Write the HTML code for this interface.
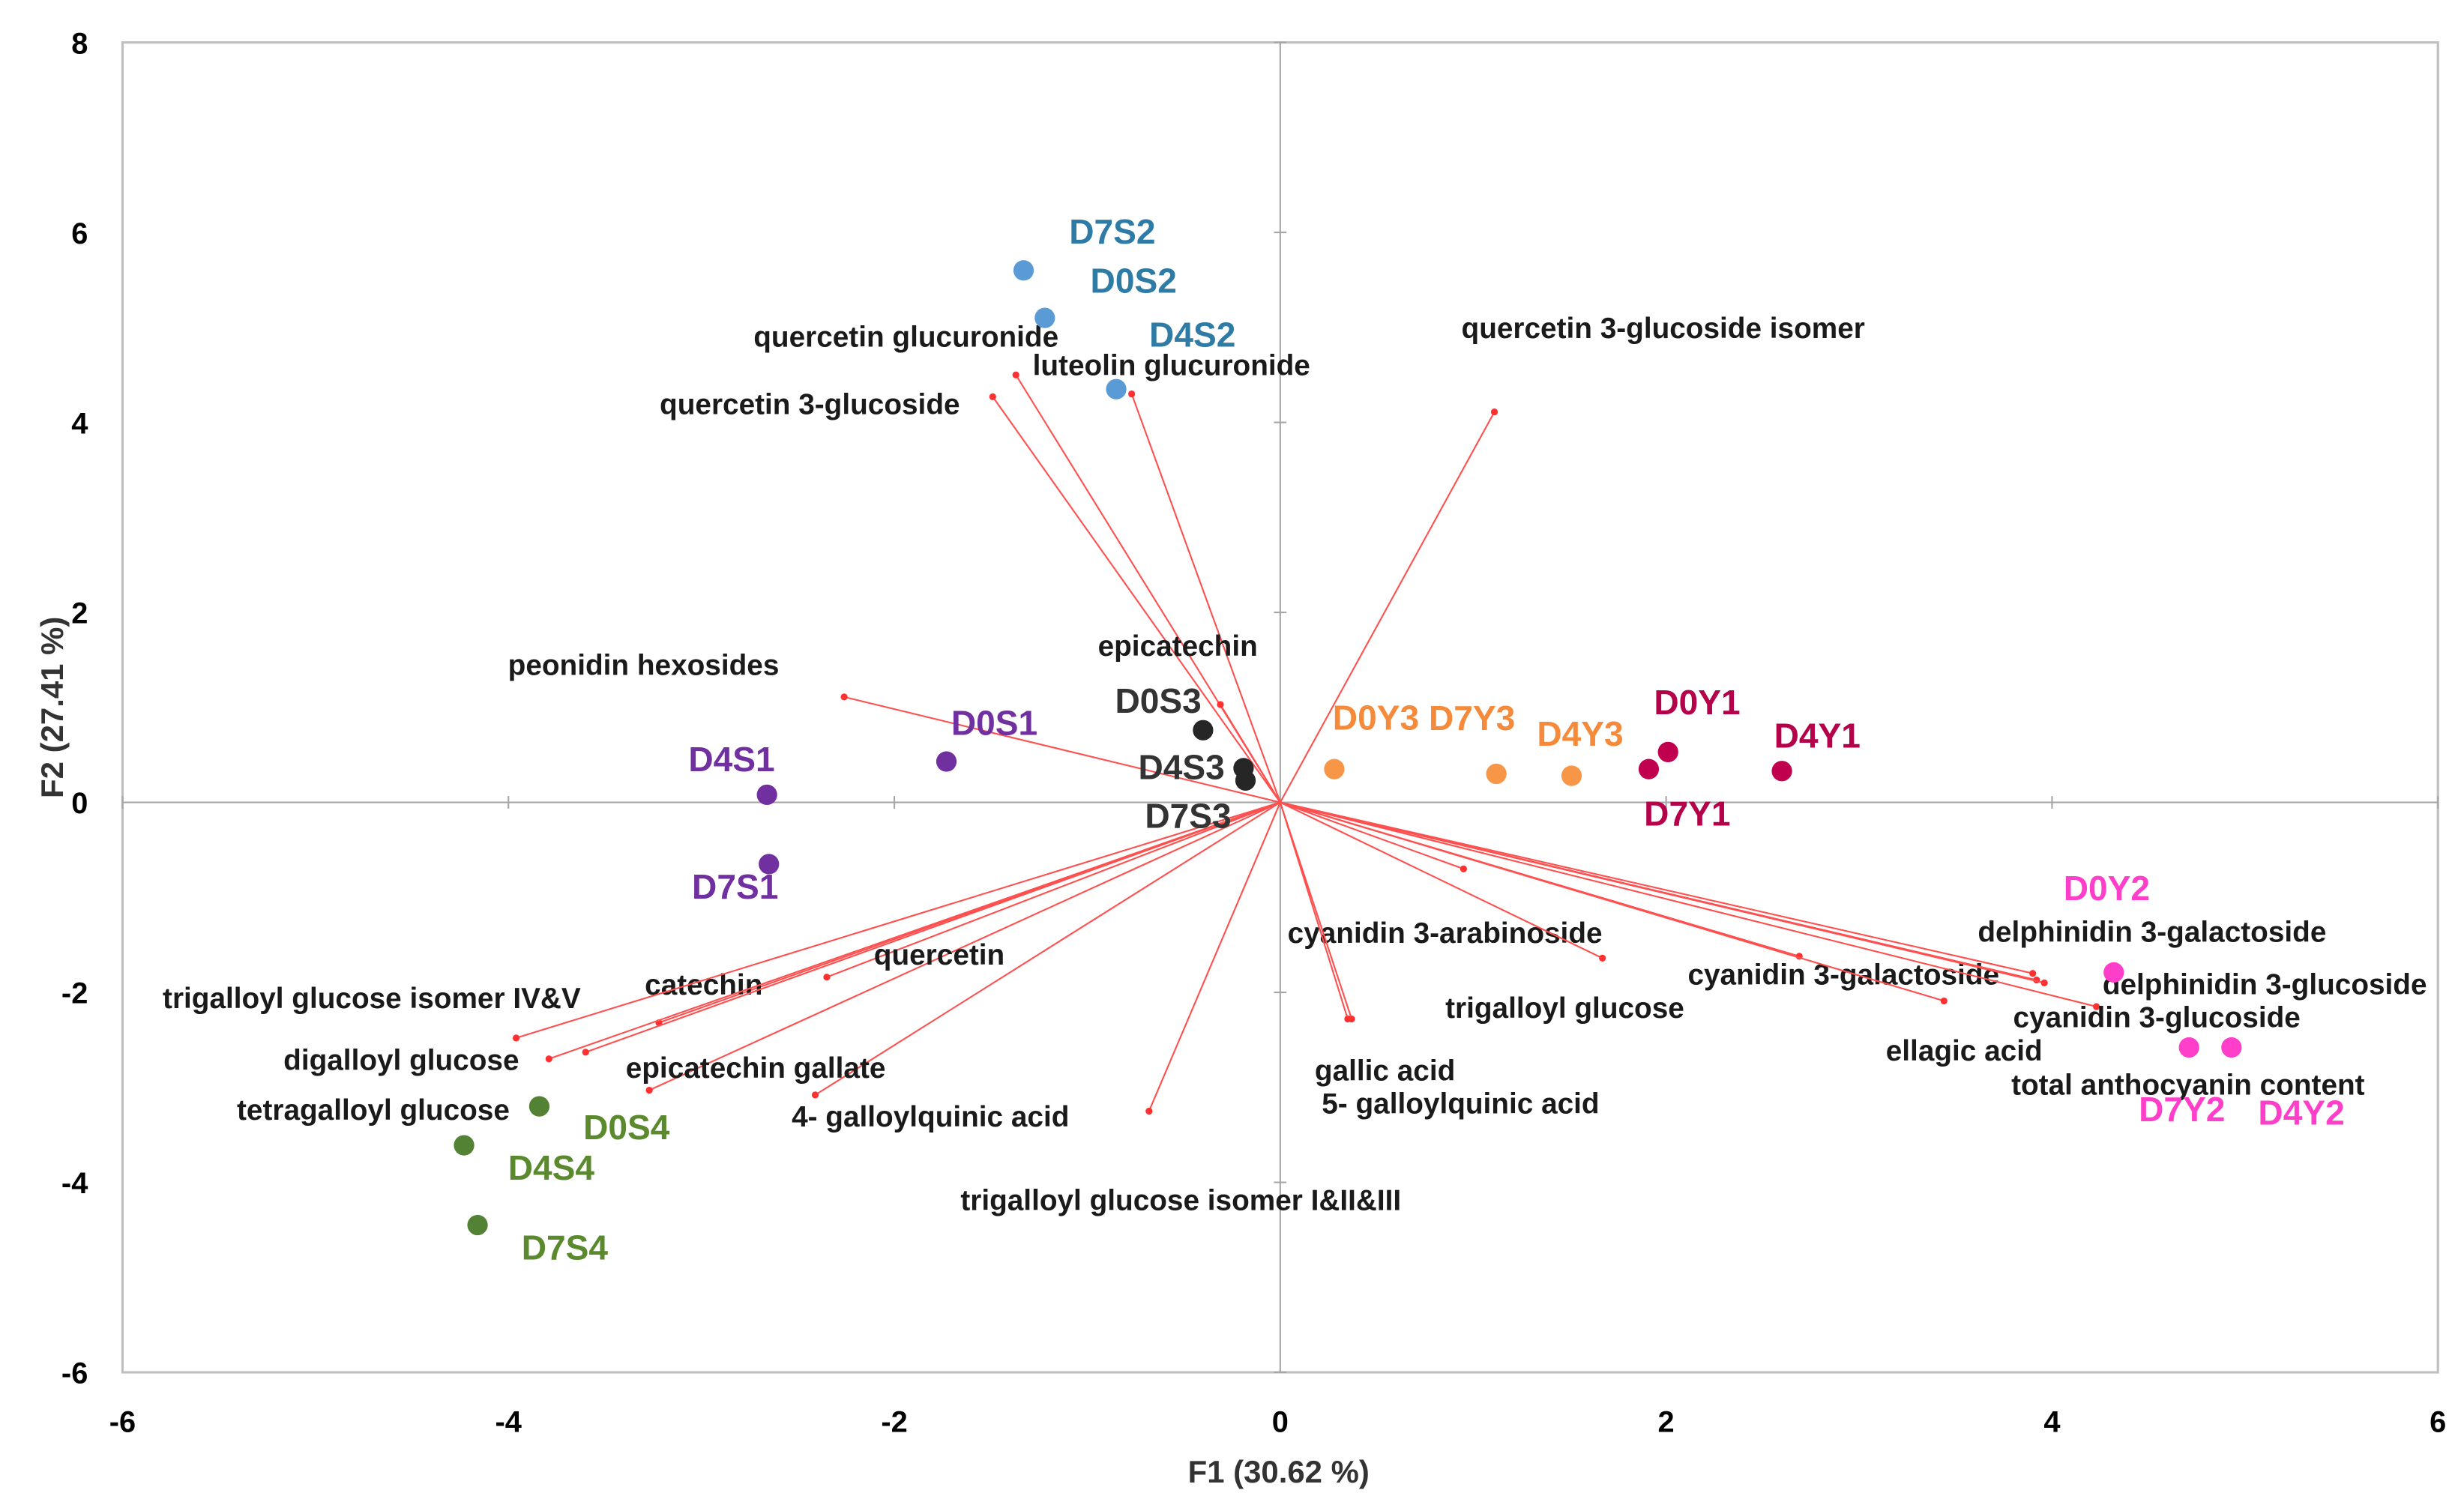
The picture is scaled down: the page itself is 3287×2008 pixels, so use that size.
<!DOCTYPE html>
<html><head><meta charset="utf-8"><style>
html,body{margin:0;padding:0;background:#fff;}
svg{display:block;}
text{font-family:"Liberation Sans",Arial,sans-serif;font-weight:bold;}
</style></head><body>
<svg id="chart" width="3287" height="2008" viewBox="0 0 1568.6 957.4" preserveAspectRatio="none" xmlns="http://www.w3.org/2000/svg">
<g id="axes"></g>
<g id="vectors"></g>
<g id="points"></g>
</svg>
<script>
// ---- data ----
const xTicks = [-6, -4, -2, 0, 2, 4, 6];
const yTicks = [-6, -4, -2, 0, 2, 4, 6, 8];
const varNames = ["quercetin glucuronide","luteolin glucuronide","quercetin 3-glucoside","quercetin 3-glucoside isomer","peonidin hexosides","epicatechin","cyanidin 3-arabinoside","trigalloyl glucose","gallic acid","5- galloylquinic acid","cyanidin 3-galactoside","ellagic acid","delphinidin 3-galactoside","delphinidin 3-glucoside","cyanidin 3-glucoside","total anthocyanin content","trigalloyl glucose isomer I&II&III","4- galloylquinic acid","epicatechin gallate","quercetin","catechin","trigalloyl glucose isomer IV&V","digalloyl glucose","tetragalloyl glucose"];
const varF1 = [-1.37,-0.77,-1.49,1.11,-2.26,-0.31,0.95,1.67,0.35,0.37,2.69,3.44,3.90,3.92,4.23,3.96,-0.68,-2.41,-3.27,-2.35,-3.22,-3.96,-3.79,-3.60];
const varF2 = [4.50,4.30,4.27,4.11,1.11,1.03,-0.70,-1.64,-2.28,-2.28,-1.62,-2.09,-1.80,-1.87,-2.15,-1.90,-3.25,-3.08,-3.03,-1.84,-2.32,-2.48,-2.70,-2.63];
const obsNames = ["D7S2","D0S2","D4S2","D0S1","D4S1","D7S1","D0S3","D4S3","D7S3","D0Y3","D7Y3","D4Y3","D0Y1","D4Y1","D7Y1","D0Y2","D7Y2","D4Y2","D0S4","D4S4","D7S4"];
const obsF1 = [-1.33,-1.22,-0.85,-1.73,-2.66,-2.65,-0.40,-0.19,-0.18,0.28,1.12,1.51,2.01,2.60,1.91,4.32,4.71,4.93,-3.84,-4.23,-4.16];
const obsF2 = [5.60,5.10,4.35,0.43,0.08,-0.65,0.76,0.36,0.23,0.35,0.30,0.28,0.53,0.33,0.35,-1.79,-2.58,-2.58,-3.20,-3.61,-4.45];
const obsGroup = [0,0,0,1,1,1,2,2,2,3,3,3,4,4,4,5,5,5,6,6,6];

// ---- layout ----
const L=78,R=1552,T=27,B=873;
const xMin=-6,xMax=6,yMin=-6,yMax=8;
const sx=v=>L+(v-xMin)/(xMax-xMin)*(R-L);
const sy=v=>B-(v-yMin)/(yMax-yMin)*(B-T);
const dotFill=["#5B9BD5","#7030A0","#262626","#F79646","#C0004F","#FF3FC9","#548235"];
const txtFill=["#2E7BA6","#7030A0","#333333","#F58A3A","#B5004A","#FF3FC9","#5B8A2E"];
// label offsets (px) relative to each mark
const varLabOff=[[-167,-18],[-63,-12],[-212,11],[-21,-47],[-214,-14],[-78,-31],[-112,47],[-100,38],[-21,39],[-19,60],[-71,18],[-37,38],[-35,-20],[42,9],[-53,13],[-21,71],[-120,63],[-15,20],[-15,-8],[30,-8],[-9,-18],[-225,-19],[-169,7],[-222,43]];
const obsLabOff=[[29,-17],[29,-16],[21,-27],[3,-17],[-50,-15],[-49,22],[-56,-11],[-67,7],[-64,30],[-1,-25],[-43,-28],[-22,-19],[-9,-24],[-5,-15],[-3,36],[-32,-46],[-32,47],[17,49],[28,21],[28,22],[28,22]];

const NS="http://www.w3.org/2000/svg";
function mk(tag,attrs,parent){const e=document.createElementNS(NS,tag);for(const k in attrs)e.setAttribute(k,attrs[k]);parent.appendChild(e);return e;}
const axes=document.getElementById('axes');
const vecG=document.getElementById('vectors');
const ptG=document.getElementById('points');

let fr=mk('rect',{x:L,y:T,width:R-L,height:B-T,fill:'none',stroke:'#BFBFBF','stroke-width':1.5},axes);


let zx=mk('line',{x1:L,x2:R,y1:sy(0),y2:sy(0),stroke:'#A6A6A6','stroke-width':1},axes);


let zy=mk('line',{x1:sx(0),x2:sx(0),y1:T,y2:B,stroke:'#A6A6A6','stroke-width':1},axes);



xTicks.forEach(v=>{
  const t=mk('text',{x:sx(v),y:911,'text-anchor':'middle','font-size':19,fill:'#000'},axes);
  t.textContent=v;
  
  
  const k=mk('line',{x1:sx(v),x2:sx(v),y1:sy(0)-4,y2:sy(0)+4,stroke:'#A6A6A6'},axes);
  
  
});
yTicks.forEach(v=>{
  const t=mk('text',{x:56,y:sy(v)+7,'text-anchor':'end','font-size':19,fill:'#000'},axes);
  t.textContent=v;
  
  
  const k=mk('line',{x1:sx(0)-4,x2:sx(0)+4,y1:sy(v),y2:sy(v),stroke:'#A6A6A6'},axes);
  
  
});
let xt=mk('text',{x:814,y:943,'text-anchor':'middle','font-size':20,fill:'#333'},axes);
xt.textContent='F1 (30.62 %)';


let yt=mk('text',{x:0,y:0,'text-anchor':'middle','font-size':20,fill:'#333',transform:'translate(40,450) rotate(-90)'},axes);
yt.textContent='F2 (27.41 %)';



varNames.forEach((n,i)=>{
  const x=sx(varF1[i]),y=sy(varF2[i]);
  const l=mk('line',{x1:sx(0),y1:sy(0),x2:x,y2:y,stroke:'#FF5050','stroke-width':1},vecG);
  
  
  const d=mk('circle',{cx:x,cy:y,r:2.2,fill:'#FF3030'},vecG);
  
  
  const t=mk('text',{x:x+varLabOff[i][0],y:y+varLabOff[i][1],'font-size':18.5,fill:'#1a1a1a'},vecG);
  t.textContent=n;
  
  
});
obsNames.forEach((n,i)=>{
  const x=sx(obsF1[i]),y=sy(obsF2[i]),g=obsGroup[i];
  const c=mk('circle',{cx:x,cy:y,r:6.5,fill:dotFill[g]},ptG);
  
  
  const t=mk('text',{x:x+obsLabOff[i][0],y:y+obsLabOff[i][1],'font-size':22,fill:txtFill[g]},ptG);
  t.textContent=n;
  
  
});
</script>
</body></html>
